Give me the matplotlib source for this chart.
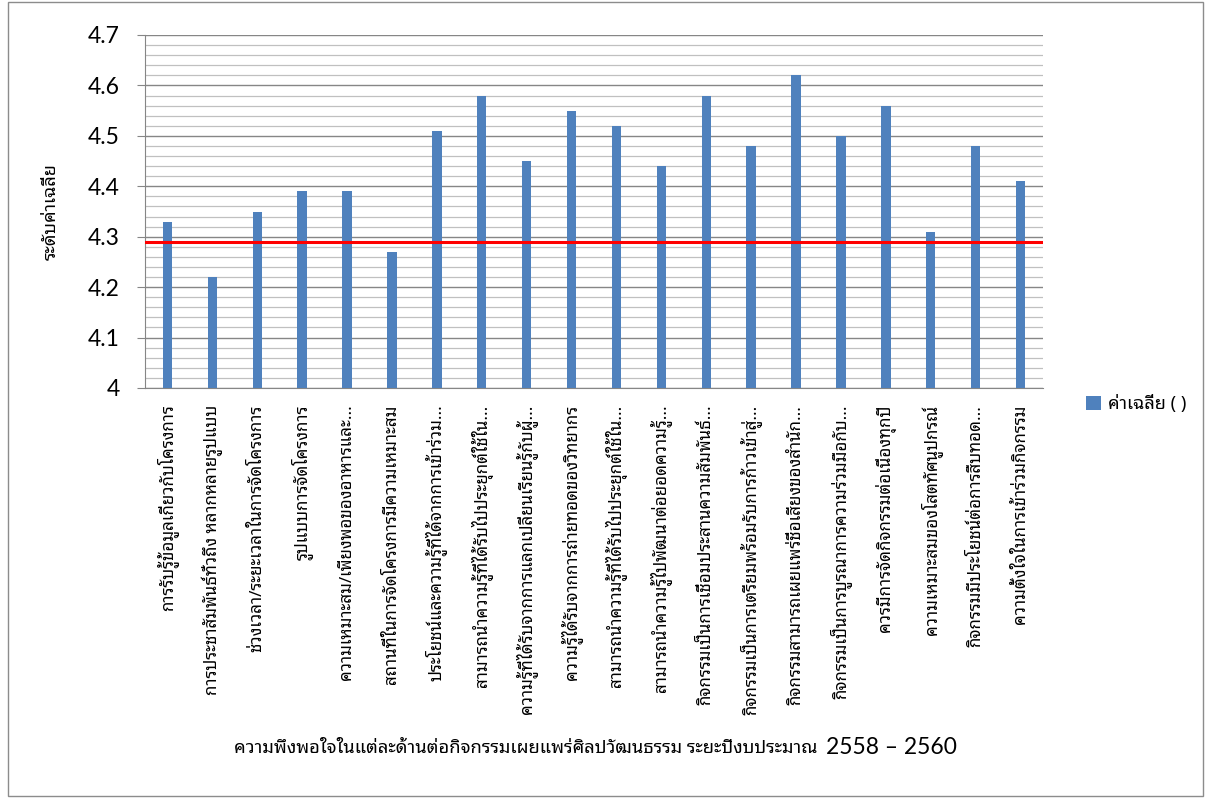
import matplotlib
matplotlib.use("Agg")
import matplotlib.pyplot as plt
from matplotlib import font_manager as fm
from matplotlib.ft2font import FT2Font
from matplotlib.patches import Rectangle
import numpy as np

categories = [
    "การรับรู้ข้อมูลเกี่ยวกับโครงการ",
    "การประชาสัมพันธ์ทั่วถึง หลากหลายรูปแบบ",
    "ช่วงเวลา/ระยะเวลาในการจัดโครงการ",
    "รูปแบบการจัดโครงการ",
    "ความเหมาะสม/เพียงพอของอาหารและ...",
    "สถานที่ในการจัดโครงการมีความเหมาะสม",
    "ประโยชน์และความรู้ที่ได้จากการเข้าร่วม...",
    "สามารถนำความรู้ที่ได้รับไปประยุกต์ใช้ใน...",
    "ความรู้ที่ได้รับจากการแลกเปลี่ยนเรียนรู้กับผู้...",
    "ความรู้ได้รับจากการถ่ายทอดของวิทยากร",
    "สามารถนำความรู้ที่ได้รับไปประยุกต์ใช้ใน...",
    "สามารถนำความรู้ไปพัฒนาต่อยอดความรู้...",
    "กิจกรรมเป็นการเชื่อมประสานความสัมพันธ์...",
    "กิจกรรมเป็นการเตรียมพร้อมรับการก้าวเข้าสู่...",
    "กิจกรรมสามารถเผยแพร่ชื่อเสียงของสำนัก...",
    "กิจกรรมเป็นการบูรณาการความร่วมมือกับ...",
    "ควรมีการจัดกิจกรรมต่อเนื่องทุกปี",
    "ความเหมาะสมของโสตทัศนูปกรณ์",
    "กิจกรรมมีประโยชน์ต่อการสืบทอด...",
    "ความตั้งใจในการเข้าร่วมกิจกรรม",
]
values = [4.33, 4.22, 4.35, 4.39, 4.39, 4.27, 4.51, 4.58, 4.45, 4.55,
          4.52, 4.44, 4.58, 4.48, 4.62, 4.50, 4.56, 4.31, 4.48, 4.41]
reference_value = 4.29
series_name = "ค่าเฉลี่ย ( )"
y_label = "ระดับค่าเฉลี่ย"
x_title = "ความพึงพอใจในแต่ละด้านต่อกิจกรรมเผยแพร่ศิลปวัฒนธรรม ระยะปีงบประมาณ"
x_title_years = "2558 – 2560"
y_ticks = [4.0, 4.1, 4.2, 4.3, 4.4, 4.5, 4.6, 4.7]
y_tick_labels = ["4", "4.1", "4.2", "4.3", "4.4", "4.5", "4.6", "4.7"]


def has_thai(path):
    try:
        cm = FT2Font(path).get_charmap()
        return 0x0E01 in cm and 0x0E49 in cm and 0x0E33 in cm
    except Exception:
        return False


thai_found = []
for fe in fm.fontManager.ttflist:
    if fe.name not in thai_found and has_thai(fe.fname):
        thai_found.append(fe.name)
preferred = ["Noto Sans Thai Looped", "Loma", "Garuda", "Noto Sans Thai", "Noto Sans Thai UI",
             "Sarabun", "Tlwg Typist", "Kinnari", "Norasi", "Noto Sans",
             "Noto Serif Thai", "FreeSerif"]
thai_font = None
for p in preferred:
    if p in thai_found:
        thai_font = p
        break
if thai_font is None and thai_found:
    thai_font = thai_found[0]
thai_family = [thai_font, "DejaVu Sans"] if thai_font else ["DejaVu Sans"]
num_family = ["Lato", "DejaVu Sans"]

plt.rcParams["font.family"] = thai_family

fig = plt.figure(figsize=(12.11, 7.98), dpi=100)
fig.patch.set_facecolor("white")
fig.patches.append(Rectangle((0.0066, 0.0025), 0.987, 0.995, transform=fig.transFigure,
                             fill=False, edgecolor="#8C8C8C", linewidth=1.0))

ax = fig.add_axes([145 / 1211, 1 - 388 / 798, (1043 - 145) / 1211, (388 - 35) / 798])
x = np.arange(len(categories))
ax.bar(x, values, width=0.21, color="#4F81BD", label=series_name, zorder=3)
ax.axhline(reference_value, color="#FF0000", linewidth=2.2, zorder=4)

ax.set_xlim(-0.5, len(categories) - 0.5)
ax.set_ylim(4.0, 4.7)
ax.set_yticks(y_ticks)
ax.set_yticklabels(y_tick_labels, family=num_family, fontsize=16.5)
ax.set_yticks(np.arange(4.0, 4.7001, 0.02), minor=True)
ax.grid(which="major", axis="y", color="#868686", linewidth=1.0, zorder=1)
ax.grid(which="minor", axis="y", color="#C0C0C0", linewidth=0.9, zorder=0)
ax.tick_params(axis="y", which="major", length=6, color="#868686", pad=12)
ax.tick_params(axis="y", which="minor", length=0)

ax.set_xticks(x)
ax.set_xticklabels(categories, rotation=90, fontsize=12.2, va="top", ha="center",
                   family=thai_family)
ax.tick_params(axis="x", which="major", length=0, pad=12)

for s in ["top", "right"]:
    ax.spines[s].set_visible(False)
for s in ["left", "bottom"]:
    ax.spines[s].set_color("#868686")

ax.set_ylabel(y_label, fontsize=13, family=thai_family, labelpad=20)

fig.text(818 / 1211, 1 - 748 / 798, x_title, ha="right", va="center",
         fontsize=13.2, family=thai_family)
fig.text(826 / 1211, 1 - 748 / 798, x_title_years, ha="left", va="center",
         fontsize=16.5, family=num_family)

leg = ax.legend(loc="center left", bbox_to_anchor=(1.04, -0.045), frameon=False,
                fontsize=13, handlelength=0.8, handleheight=0.8, handletextpad=0.4,
                borderaxespad=0)

fig.savefig("out.png", dpi=100, facecolor="white")
